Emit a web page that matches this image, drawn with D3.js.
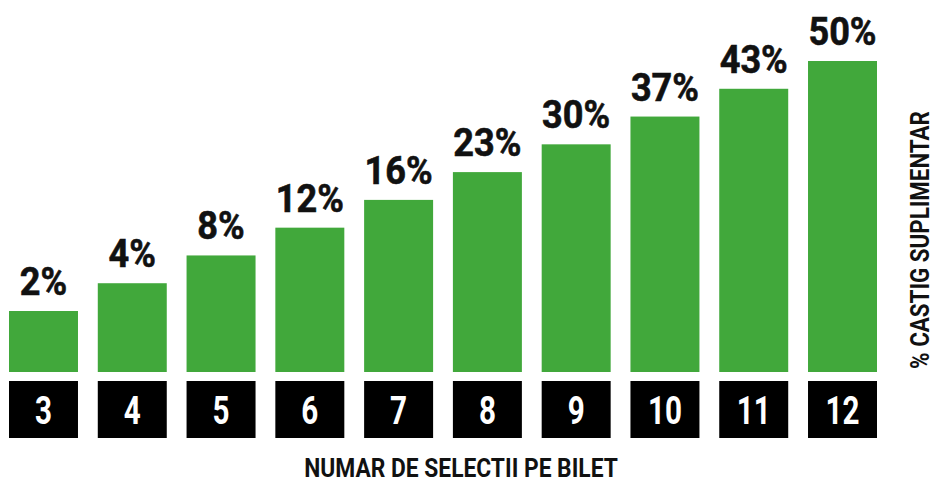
<!DOCTYPE html>
<html lang="ro">
<head>
  <meta charset="UTF-8">
  <title>% Castig suplimentar</title>
  <script src="https://d3js.org/d3.v7.min.js"></script>
  <style>
    body { margin: 0; background: #fff; }
    text { font-family: Roboto, "DejaVu Sans", sans-serif; font-weight: bold; }
  </style>
</head>
<body>
  <div class="canvas"></div>
  <script>
    // selections per ticket and the extra win percentage
    const selections = ["3", "4", "5", "6", "7", "8", "9", "10", "11", "12"];
    const bonus = [2, 4, 8, 12, 16, 23, 30, 37, 43, 50];

    const svgWidth = 937;
    const svgHeight = 485;
    const green = "#41a83b";
    const squeeze = 0.86; // the original uses a condensed face

    const svg = d3.select(".canvas")
      .append("svg")
      .attr("width", svgWidth)
      .attr("height", svgHeight);

    const x = d3.scaleBand()
      .domain(selections)
      .range([9, 877])
      .paddingInner(0.223)
      .paddingOuter(0);

    // bars step up evenly in the original, not in proportion to the value
    const y = d3.scalePoint()
      .domain(bonus)
      .range([311, 61]);

    const baseY = 372;
    const data = selections.map((s, i) => ({ sel: s, pct: bonus[i] }));
    const mid = d => x(d) + x.bandwidth() / 2;

    svg.selectAll("rect.bar")
      .data(data)
      .enter()
      .append("rect")
      .attr("class", "bar")
      .attr("x", d => x(d.sel))
      .attr("y", d => y(d.pct))
      .attr("width", x.bandwidth())
      .attr("height", d => baseY - y(d.pct))
      .attr("fill", green);

    svg.selectAll("text.value")
      .data(data)
      .enter()
      .append("text")
      .attr("class", "value")
      .attr("transform", d => `translate(${mid(d.sel)}, ${y(d.pct) - 16}) scale(0.95, 1)`)
      .attr("text-anchor", "middle")
      .attr("font-size", 38)
      .attr("fill", "#111")
      .attr("stroke", "#111")
      .attr("stroke-width", 0.6)
      .text(d => d.pct + "%");

    // black boxes acting as the x axis
    const axis = svg.append("g").attr("class", "x-axis");

    axis.selectAll("rect")
      .data(selections)
      .enter()
      .append("rect")
      .attr("x", d => x(d))
      .attr("y", 381)
      .attr("width", x.bandwidth())
      .attr("height", 57)
      .attr("fill", "#000");

    axis.selectAll("text")
      .data(selections)
      .enter()
      .append("text")
      .attr("transform", d => `translate(${mid(d)}, 424) scale(0.78, 1)`)
      .attr("text-anchor", "middle")
      .attr("font-size", 38)
      .attr("fill", "#fff")
      .text(d => d);

    svg.append("text")
      .attr("transform", `translate(461, 477) scale(${squeeze}, 1)`)
      .attr("text-anchor", "middle")
      .attr("font-size", 26.5)
      .attr("fill", "#111")
      .text("NUMAR DE SELECTII PE BILET");

    svg.append("text")
      .attr("transform", `translate(929, 240) rotate(-90) scale(${squeeze}, 1)`)
      .attr("text-anchor", "middle")
      .attr("font-size", 26)
      .attr("fill", "#111")
      .text("% CASTIG SUPLIMENTAR");
  </script>
</body>
</html>
